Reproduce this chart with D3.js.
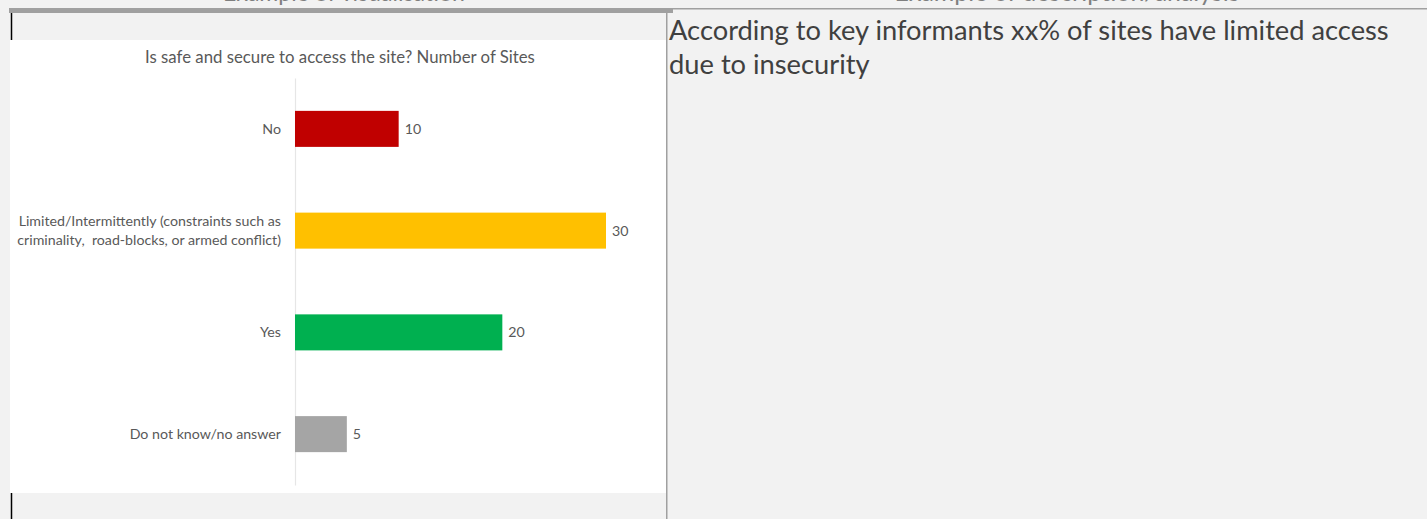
<!DOCTYPE html>
<html>
<head>
<meta charset="utf-8">
<script src="https://cdn.jsdelivr.net/npm/d3@7/dist/d3.min.js"></script>
<style>
  html, body { margin: 0; padding: 0; background: #f2f2f2; }
  svg { display: block; }
  text { font-family: Lato, "Open Sans", sans-serif; }
</style>
</head>
<body>
<svg id="page" width="1427" height="519"></svg>
<script>
// ---- data ----
const categories = [
  "No",
  "Limited/Intermittently (constraints such as\ncriminality,  road-blocks, or armed conflict)",
  "Yes",
  "Do not know/no answer"
];
const values = [10, 30, 20, 5];
const barColors = ["#c00000", "#ffc000", "#00b050", "#a5a5a5"];
const chartTitle = "Is safe and secure to access the site? Number of Sites";
const headerLabels = ["Example of visualisation", "Example of description/analysis"];
const descriptionLines = [
  "According to key informants xx% of sites have limited access",
  "due to insecurity"
];

// ---- helpers ----
function fitFont(sel, targetWidth, base) {
  sel.style("font-size", base + "px");
  const w = sel.node().getComputedTextLength();
  const size = base * targetWidth / w;
  sel.style("font-size", size + "px");
  return size;
}

const svg = d3.select("#page");

// page background
svg.append("rect").attr("x", 0).attr("y", 0).attr("width", 1427).attr("height", 519).attr("fill", "#f2f2f2");

// header texts (cut off at the top edge, as in the reference)
const h1 = svg.append("text").attr("x", 344).attr("y", 0.5).attr("text-anchor", "middle")
  .attr("fill", "#7f7f7f").text(headerLabels[0]);
fitFont(h1, 242, 24);
const h2 = svg.append("text").attr("x", 1067).attr("y", 0.5).attr("text-anchor", "middle")
  .attr("fill", "#7f7f7f").text(headerLabels[1]);
fitFont(h2, 345, 24);

// table borders
svg.append("rect").attr("x", 9).attr("y", 8).attr("width", 664).attr("height", 5).attr("fill", "#a0a0a0");
svg.append("rect").attr("x", 673).attr("y", 8).attr("width", 754).attr("height", 1.5).attr("fill", "#a0a0a0");

// white chart area
svg.append("rect").attr("x", 10).attr("y", 40).attr("width", 656).attr("height", 453).attr("fill", "#ffffff");

// left black border pieces
svg.append("line").attr("x1", 11.5).attr("x2", 11.5).attr("y1", 13).attr("y2", 40).attr("stroke", "#000").attr("stroke-width", 1.5);
svg.append("line").attr("x1", 11.5).attr("x2", 11.5).attr("y1", 493).attr("y2", 519).attr("stroke", "#000").attr("stroke-width", 1.5);
// cell divider
svg.append("line").attr("x1", 666.75).attr("x2", 666.75).attr("y1", 13).attr("y2", 519).attr("stroke", "#a0a0a0").attr("stroke-width", 1.5);

// description text
const desc = svg.append("g");
const d1 = desc.append("text").attr("x", 669).attr("y", 39.5).attr("fill", "#404040").text(descriptionLines[0]);
const descSize = fitFont(d1, 720, 24);
desc.append("text").attr("x", 669).attr("y", 74).attr("fill", "#404040").style("font-size", descSize + "px").text(descriptionLines[1]);

// ---- chart ----
const title = svg.append("text").attr("x", 340).attr("y", 63).attr("text-anchor", "middle")
  .attr("fill", "#595959").text(chartTitle);
fitFont(title, 390, 14);

const x = d3.scaleLinear().domain([0, d3.max(values)]).range([295, 606]);
const y = d3.scaleBand().domain(categories).range([78, 485]).paddingInner(0.646).paddingOuter(0.323);

const data = categories.map((c, i) => ({ cat: c, value: values[i], color: barColors[i] }));

// axis
const axisG = svg.append("g").attr("transform", `translate(${x(0)},0)`)
  .call(d3.axisLeft(y).tickSize(0).tickPadding(14));
axisG.select(".domain").attr("stroke", "#e6e6e6").attr("stroke-width", 1.2);
const tickTexts = axisG.selectAll(".tick text")
  .attr("fill", "#595959")
  .attr("dy", null)
  .style("font-family", "Lato, 'Open Sans', sans-serif");

// determine label font size from longest line
const probe = svg.append("text").style("font-family", "Lato").style("white-space", "pre")
  .text("criminality,  road-blocks, or armed conflict)");
const labelSize = fitFont(probe, 264, 12);
probe.remove();

tickTexts.each(function(d) {
  const t = d3.select(this);
  const lines = d.split("\n");
  t.text(null).style("font-size", labelSize + "px").style("white-space", "pre");
  const lh = 19;
  const base = labelSize * 0.35;
  lines.forEach((ln, i) => {
    t.append("tspan").attr("x", -14)
      .attr("dy", i === 0 ? (base - (lines.length - 1) * lh / 2) + "px" : lh + "px")
      .text(ln);
  });
});

// bars
svg.append("g").selectAll("rect").data(data).join("rect")
  .attr("x", x(0))
  .attr("y", d => y(d.cat))
  .attr("width", d => x(d.value) - x(0))
  .attr("height", y.bandwidth())
  .attr("fill", d => d.color);

// value labels
svg.append("g").selectAll("text").data(data).join("text")
  .attr("x", d => x(d.value) + 6)
  .attr("y", d => y(d.cat) + y.bandwidth() / 2)
  .attr("dy", "0.35em")
  .attr("fill", "#595959")
  .style("font-size", labelSize + "px")
  .text(d => d.value);
</script>
</body>
</html>
